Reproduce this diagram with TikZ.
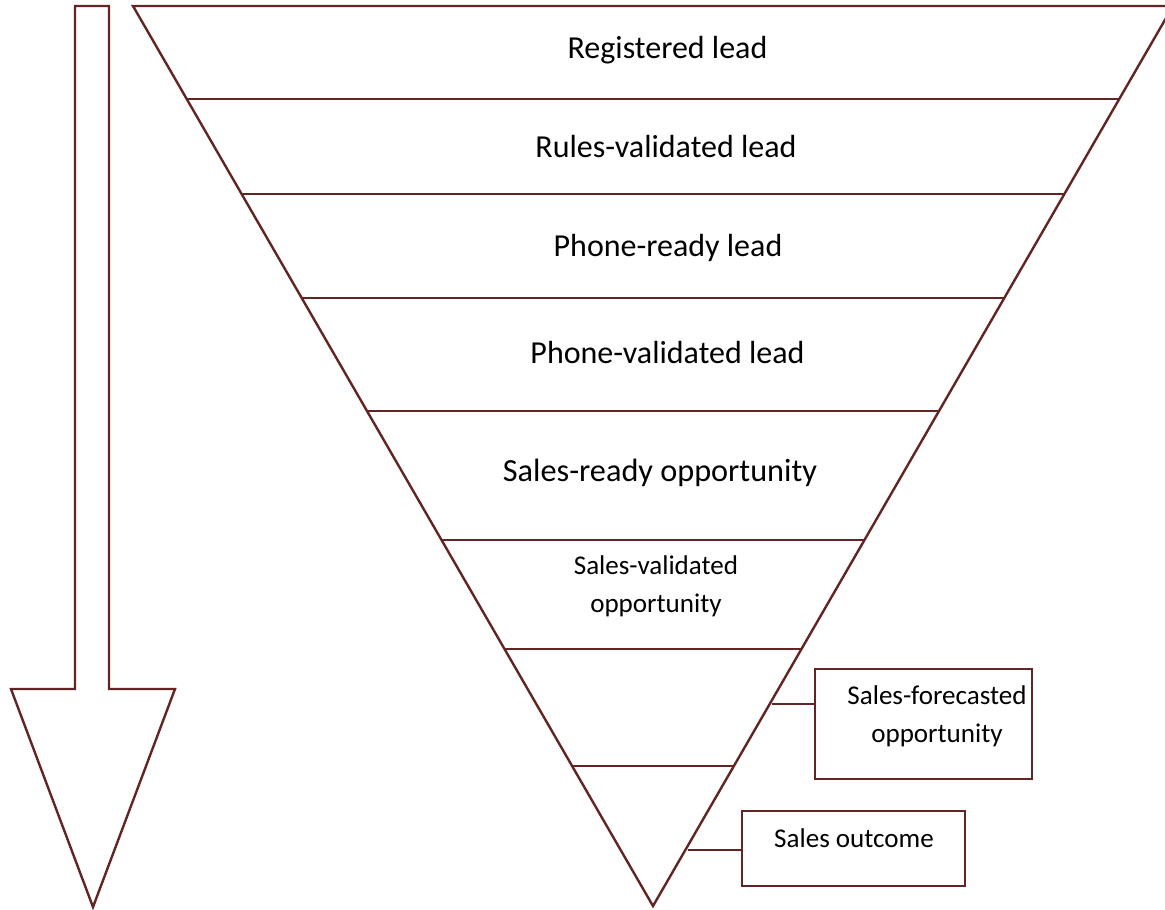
\documentclass[tikz,border=0pt]{standalone}
\usepackage{fontspec}
\setmainfont{Carlito}
\definecolor{maroon}{RGB}{99,37,35}
\begin{document}
\begin{tikzpicture}[x=0.75pt,y=-0.75pt,
  ln/.style={draw=maroon,line width=1.8pt,line join=miter},
  lbl/.style={font=\fontsize{24}{29}\selectfont,inner sep=0pt,anchor=center},
  sml/.style={font=\fontsize{20.3}{28.5}\selectfont,inner sep=0pt,align=center,anchor=center},
  bx/.style={draw=maroon,line width=1.8pt,inner sep=0pt}]
\useasboundingbox (0,0) rectangle (1165,910);
% down arrow
\draw[ln] (75,6) -- (109,6) -- (109,689) -- (175,689) -- (93,907) -- (11,689) -- (75,689) -- cycle;
% funnel
\coordinate (tl) at (133,6);
\coordinate (tr) at (1173,6);
\coordinate (apex) at (653,906);
\draw[ln] (tl) -- (tr) -- (apex) -- cycle;
% horizontal dividers
\foreach \yy in {99,194,298,411,540,649,766}{
  \pgfmathsetmacro{\dx}{(906-\yy)*0.5778}
  \draw[ln] ({653-\dx},\yy) -- ({653+\dx},\yy);
}
% labels
\node[lbl] (l1) at (667.5,50) {Registered lead};
\node[lbl] (l2) at (666,147) {Rules-validated lead};
\node[lbl] (l3) at (668,248) {Phone-ready lead};
\node[lbl] (l4) at (667.5,353) {Phone-validated lead};
\node[lbl,font=\fontsize{24.2}{30}\selectfont] (l5) at (660,473) {Sales-ready opportunity};
\node[sml] (l6) at (656,586) {Sales-validated\\opportunity};
% side boxes
\node[bx,minimum width=217pt*0.75,minimum height=110pt*0.75] (b1) at (923.5,724) {};
\node[sml] (t1) at (937,716) {Sales-forecasted\\opportunity};
\node[bx,minimum width=223pt*0.75,minimum height=75pt*0.75] (b2) at (853.5,848.5) {};
\node[sml] (t2) at (854,838) {Sales outcome};
\coordinate (c1) at (772,704);
\coordinate (c2) at (688,850);
\draw[ln] (c1) -- (b1.west |- c1);
\draw[ln] (c2) -- (b2.west |- c2);
\end{tikzpicture}
\end{document}
